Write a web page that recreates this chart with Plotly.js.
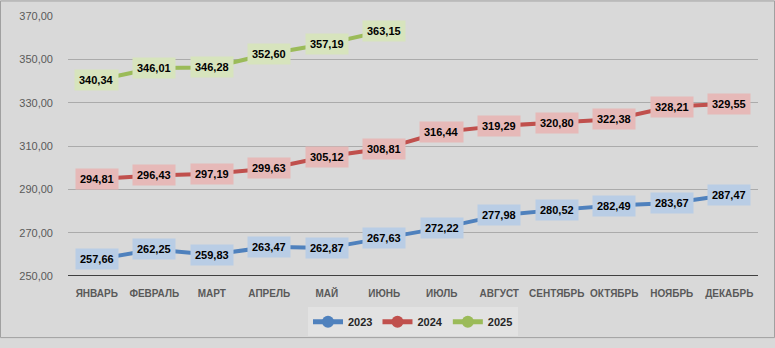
<!DOCTYPE html>
<html><head><meta charset="utf-8">
<script src="https://cdn.plot.ly/plotly-3.0.1.min.js"></script>
<style>html,body{margin:0;padding:0;background:#d9d9d9;}#c{width:775px;height:348px;}</style>
</head><body><div id="c"></div>
<script>
const months = ["ЯНВАРЬ","ФЕВРАЛЬ","МАРТ","АПРЕЛЬ","МАЙ","ИЮНЬ","ИЮЛЬ","АВГУСТ","СЕНТЯБРЬ","ОКТЯБРЬ","НОЯБРЬ","ДЕКАБРЬ"];
const v2023 = [257.66,262.25,259.83,263.47,262.87,267.63,272.22,277.98,280.52,282.49,283.67,287.47];
const v2024 = [294.81,296.43,297.19,299.63,305.12,308.81,316.44,319.29,320.80,322.38,328.21,329.55];
const v2025 = [340.34,346.01,346.28,352.60,357.19,363.15];
const seriesNames = ["2023","2024","2025"];
const yTicks = [250,270,290,310,330,350,370];

const lineColors = ["#4f81bd","#c0504d","#9bbb59"];
const boxColors = ["#b9cde5","#e6b9b8","#d7e4bd"];
const all = [v2023, v2024, v2025];

const fmt = v => v.toFixed(2).replace('.', ',');
const FONT = 'Liberation Sans, Arial, sans-serif';

const traces = all.map((vals, i) => ({
  type: 'scatter', mode: 'lines+markers', name: seriesNames[i],
  x: months.slice(0, vals.length), y: vals,
  line: {color: lineColors[i], width: 4},
  marker: {color: lineColors[i], size: 13},
  hoverinfo: 'skip'
}));

const annotations = [];
all.forEach((vals, i) => {
  vals.forEach((v, j) => {
    annotations.push({
      x: months[j], y: v, xref: 'x', yref: 'y',
      text: '<b>' + fmt(v) + '</b>', showarrow: false,
      bgcolor: boxColors[i], borderpad: 4,
      font: {family: FONT, size: 11, color: '#000'},
      xanchor: 'center', yanchor: 'middle'
    });
  });
});

const layout = {
  width: 775, height: 348,
  paper_bgcolor: '#d9d9d9', plot_bgcolor: '#d9d9d9',
  margin: {l: 68, r: 17, t: 16, b: 64},
  separators: ', ',
  showlegend: true,
  legend: {orientation: 'h', x: 0.5, xanchor: 'center', y: -0.12, yanchor: 'top',
    bgcolor: '#e2e2e2', font: {family: FONT, size: 11, color: '#262626', weight: 'bold'},
    itemwidth: 30, itemsizing: 'constant'},
  xaxis: {type: 'category', categoryarray: months, categoryorder: 'array', tickangle: 0,
    range: [-0.5, 11.5], showgrid: false, zeroline: false, showline: false, ticks: '',
    ticklabelstandoff: 10,
    tickfont: {family: FONT, size: 10, color: '#595959', weight: 'bold'}},
  yaxis: {range: [250, 370], tickvals: yTicks, ticktext: yTicks.map(fmt), showgrid: true,
    gridcolor: '#ababab', gridwidth: 1, zeroline: false, showline: false, ticks: '',
    ticklabelstandoff: 14,
    tickfont: {family: FONT, size: 11, color: '#595959'}},
  annotations: annotations,
  shapes: [
    {type: 'line', xref: 'paper', yref: 'y', x0: 0, x1: 1, y0: 250, y1: 250, line: {color: '#404040', width: 2}},
    {type: 'rect', xref: 'paper', yref: 'paper', x0: -67.5/690, x1: 1 + 16.5/690, y0: -63.5/268, y1: 1 + 15.5/268,
     line: {color: '#a0a0a0', width: 1}, fillcolor: 'rgba(0,0,0,0)', layer: 'below'}
  ]
};

Plotly.newPlot('c', traces, layout, {displayModeBar: false, staticPlot: true});
</script></body></html>
